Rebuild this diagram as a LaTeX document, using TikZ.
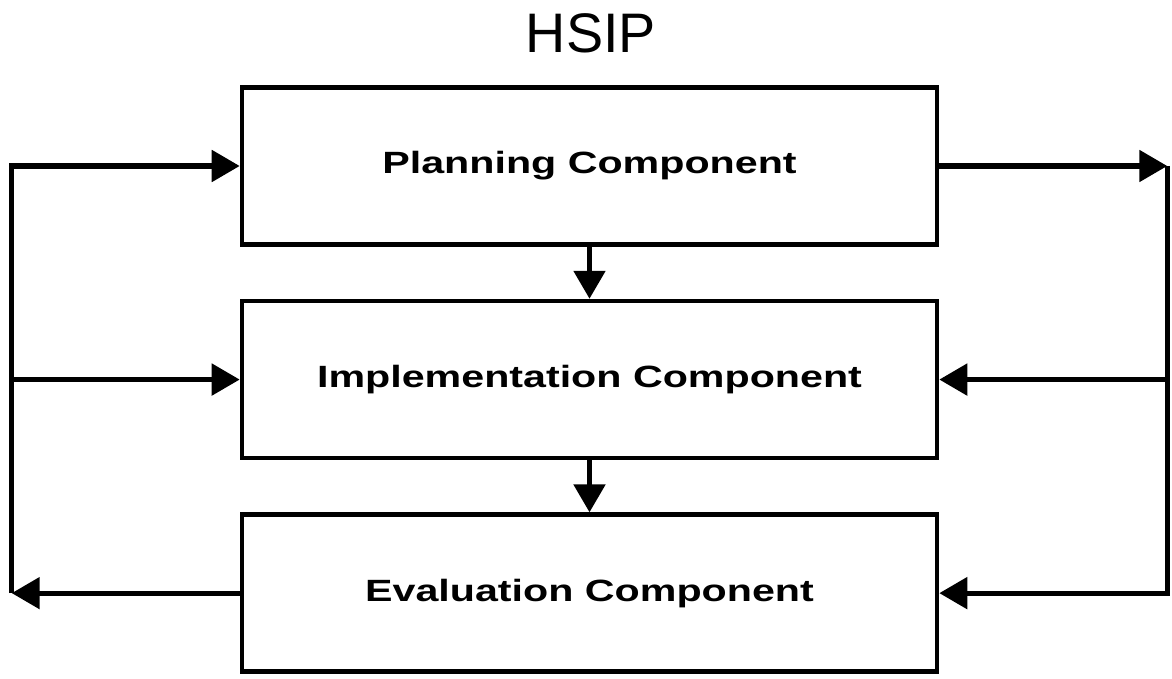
\documentclass[tikz,border=0pt]{standalone}
\usepackage{fontspec}
\setmainfont{Liberation Sans}
\newfontfamily\boxfont{Liberation Sans}[FakeStretch=1.34]
\usepackage{tikz}
\usetikzlibrary{arrows.meta,positioning,calc}

\begin{document}
\begin{tikzpicture}[
    node distance=1.04cm,
    box/.style={draw, line width=2.6pt, minimum width=13.9cm, minimum height=3.14cm,
        font=\boxfont\bfseries\fontsize{17.5}{21}\selectfont},
    line/.style={line width=3pt},
    arrow/.style={line width=3pt, -{Triangle[length=0.56cm, width=0.62cm]}},
    title/.style={font=\fontsize{31.7}{36}\selectfont}
]
    \useasboundingbox (0,0) rectangle (23.44,-13.58);

    % Title
    \node[title, anchor=base] (hsip) at (11.82,-1.06) {HSIP};

    % Components
    \node[box] (plan) at (11.79,-3.32) {Planning Component};
    \node[box, below=of plan] (impl) {Implementation Component};
    \node[box, below=of impl] (eval) {Evaluation Component};

    % Rails
    \coordinate[left=4.56cm of plan.west] (ltop);
    \coordinate (lbot) at (ltop |- eval.west);
    \coordinate[right=4.56cm of plan.east] (rtop);
    \coordinate (rbot) at (rtop |- eval.east);

    % Connections
    \draw[arrow] (plan) -- (impl);
    \draw[arrow] (impl) -- (eval);
    \draw[arrow] (lbot) -- (ltop) -- (plan.west);
    \draw[arrow] (ltop |- impl.west) -- (impl.west);
    \draw[arrow] (eval.west) -- (lbot);
    \draw[arrow] (plan.east) -- (rtop);
    \draw[arrow] (rtop) -- (rbot) -- (eval.east);
    \draw[arrow] (rtop |- impl.east) -- (impl.east);
\end{tikzpicture}
\end{document}
